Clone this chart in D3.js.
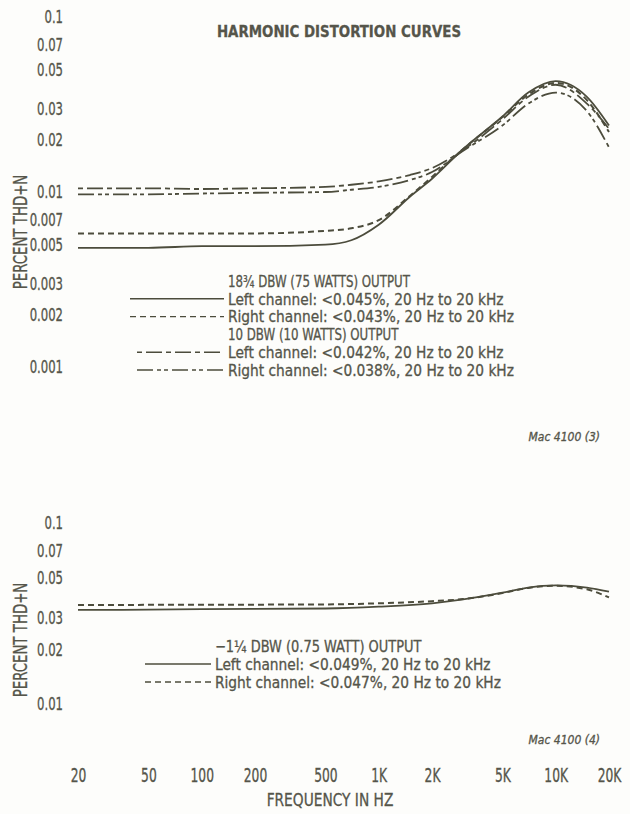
<!DOCTYPE html>
<html><head><meta charset="utf-8">
<script src="https://cdn.jsdelivr.net/npm/d3@7"></script>
<style>
body{margin:0;background:#fdfdfb;}
svg{display:block;}
text{font-family:"DejaVu Sans Condensed","DejaVu Sans",sans-serif;fill:#55554a;stroke:#55554a;stroke-width:0.3;}
</style></head>
<body>
<svg id="chart" width="630" height="814"></svg>
<script>
// ---------- data ----------
const freqs = [20, 50, 100, 200, 500, 700, 1000, 1500, 2000, 3000, 5000, 7000, 10000, 15000, 20000];
const left75  = [0.0048,0.0048,0.0049,0.0049,0.0050,0.0053,0.0065,0.0094,0.0119,0.0176,0.0270,0.0370,0.0430,0.0350,0.0240];
const right75 = [0.0058,0.0058,0.0058,0.0058,0.0060,0.0062,0.0069,0.0095,0.0122,0.0176,0.0268,0.0360,0.0420,0.0335,0.0220];
const left10  = [0.0105,0.0105,0.0104,0.0105,0.0107,0.0110,0.0115,0.0125,0.0137,0.0174,0.0260,0.0350,0.0410,0.0320,0.0230];
const right10 = [0.0097,0.0097,0.0098,0.0099,0.0100,0.0103,0.0107,0.0117,0.0130,0.0172,0.0240,0.0320,0.0370,0.0290,0.0180];

const freqsLow = [20, 50, 100, 200, 500, 1000, 2000, 3000, 5000, 7000, 10000, 15000, 20000];
const leftLow  = [0.0331,0.0332,0.0334,0.0335,0.0337,0.0345,0.0360,0.0378,0.0412,0.0440,0.0452,0.0440,0.0418];
const rightLow = [0.0352,0.0353,0.0354,0.0354,0.0355,0.0360,0.0370,0.0380,0.0410,0.0438,0.0450,0.0430,0.0388];

const yTicksTop = [0.1,0.07,0.05,0.03,0.02,0.01,0.007,0.005,0.003,0.002,0.001];
const yTicksBot = [0.1,0.07,0.05,0.03,0.02,0.01];
const xTicks = [20,50,100,200,500,1000,2000,5000,10000,20000];
const xTickLabels = ["20","50","100","200","500","1K","2K","5K","10K","20K"];

const legendTop = [
  {head:"18¾ DBW (75 WATTS) OUTPUT"},
  {label:"Left channel: <0.045%, 20 Hz to 20 kHz", dash:null, x0:130},
  {label:"Right channel: <0.043%, 20 Hz to 20 kHz", dash:"6,4", x0:130},
  {head:"10 DBW (10 WATTS) OUTPUT"},
  {label:"Left channel: <0.042%, 20 Hz to 20 kHz", dash:"5,4,16,4", x0:137},
  {label:"Right channel: <0.038%, 20 Hz to 20 kHz", dash:"16,4,4,3,4,4", x0:137}
];
const legendBot = [
  {head:"−1¼ DBW (0.75 WATT) OUTPUT"},
  {label:"Left channel: <0.049%, 20 Hz to 20 kHz", dash:null, x0:145},
  {label:"Right channel: <0.047%, 20 Hz to 20 kHz", dash:"6,4", x0:145}
];

// ---------- drawing ----------
const svg = d3.select("#chart");
const ink = "#4c4c3c";
const x = d3.scaleLog().domain([20,20000]).range([78,609]);
const yTop = d3.scaleLog().domain([0.001,0.1]).range([367,17]);
const yBot = d3.scaleLog().domain([0.01,0.1]).range([704,523]);

// horizontally condense text to mimic the narrow typeface
function condense(sel, f){
  sel.each(function(){
    const w = this.getComputedTextLength();
    d3.select(this).attr("textLength", w*f).attr("lengthAdjust","spacingAndGlyphs");
  });
}

function yAxis(scale, ticks){
  const g = svg.append("g").attr("transform","translate(63,0)")
    .call(d3.axisLeft(scale).tickValues(ticks).tickFormat(d=>String(d)).tickSize(0).tickPadding(0));
  g.select(".domain").remove();
  const t = g.selectAll("text").attr("font-size",18.5).attr("font-family",null).attr("fill","#55554a");
  condense(t, 0.7);
}
yAxis(yTop, yTicksTop);
yAxis(yBot, yTicksBot);

const gx = svg.append("g").attr("transform","translate(0,768)")
  .call(d3.axisBottom(x).tickValues(xTicks).tickFormat((d,i)=>xTickLabels[i]).tickSize(0).tickPadding(0));
gx.select(".domain").remove();
condense(gx.selectAll("text").attr("font-size",19).attr("font-family",null).attr("fill","#55554a"), 0.72);

condense(svg.append("text").attr("x",330).attr("y",806).attr("text-anchor","middle")
  .attr("font-size",18).text("FREQUENCY IN HZ"), 0.85);

condense(svg.append("text").attr("x",339).attr("y",37).attr("text-anchor","middle")
  .attr("font-size",16.5).attr("font-weight","bold").attr("fill","#4f4f40").text("HARMONIC DISTORTION CURVES"), 0.9);

function yTitle(cy){
  condense(svg.append("text").attr("transform",`translate(27,${cy}) rotate(-90)`)
    .attr("text-anchor","middle").attr("font-size",19).text("PERCENT THD+N"), 0.78);
}
yTitle(232);
yTitle(640);

function curve(fs, vals, yScale, dash, w){
  const line = d3.line().x(d=>x(d[0])).y(d=>yScale(d[1])).curve(d3.curveMonotoneX);
  svg.append("path").datum(fs.map((f,i)=>[f,vals[i]]))
    .attr("d",line).attr("fill","none").attr("stroke",ink)
    .attr("stroke-width",w||1.8).attr("stroke-dasharray",dash);
}
curve(freqs, right10, yTop, legendTop[5].dash);
curve(freqs, left10, yTop, legendTop[4].dash);
curve(freqs, right75, yTop, legendTop[2].dash, 2);
curve(freqs, left75, yTop, null, 1.8);
curve(freqsLow, rightLow, yBot, "6,4", 2);
curve(freqsLow, leftLow, yBot, null, 1.8);

function legend(items, tx, ty, step, headF){
  items.forEach((it,i)=>{
    const yy = ty + i*step;
    const t = svg.append("text").attr("x",tx).attr("y",yy).attr("dy","0.36em").attr("font-size",16);
    t.text(it.head || it.label);
    condense(t, it.head ? headF : 0.955);
    if(!it.head){
      svg.append("line").attr("x1",it.x0).attr("x2",tx-4).attr("y1",yy).attr("y2",yy)
        .attr("stroke",ink).attr("stroke-width",1.4).attr("stroke-dasharray",it.dash);
    }
  });
}
legend(legendTop, 228, 281, 17.8, 0.82);
legend(legendBot, 215, 646, 18, 0.9);

svg.append("text").attr("x",600).attr("y",441).attr("text-anchor","end").attr("stroke-width",0)
  .attr("font-size",12).attr("font-style","italic").attr("font-family","Liberation Sans, sans-serif").text("Mac 4100 (3)");
svg.append("text").attr("x",600).attr("y",744).attr("text-anchor","end").attr("stroke-width",0)
  .attr("font-size",12).attr("font-style","italic").attr("font-family","Liberation Sans, sans-serif").text("Mac 4100 (4)");
</script>
</body></html>
